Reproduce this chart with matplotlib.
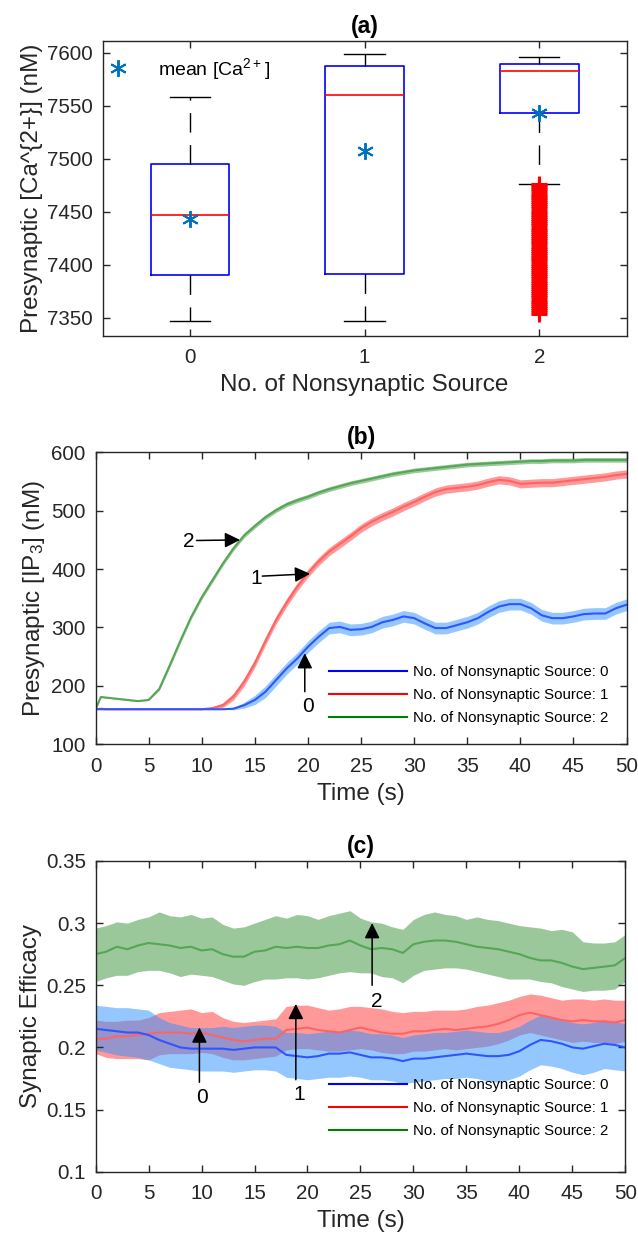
import numpy as np
import matplotlib
matplotlib.use("Agg")
import matplotlib.pyplot as plt
from matplotlib.lines import Line2D

plt.rcParams['font.family'] = ['Liberation Sans', 'DejaVu Sans']
plt.rcParams['mathtext.default'] = 'regular'

# ---- data (a): box statistics
positions = [0, 1, 2]
q1 = [7390, 7391, 7543]
q3 = [7495, 7587, 7589]
medians = [7447, 7560, 7583]
means = [7443, 7507, 7543]
whislo = [7347, 7347, 7476]
whishi = [7558, 7599, 7596]
fliers2 = [7353, 7355, 7357, 7359, 7361, 7363, 7365, 7367, 7369, 7371,
           7373, 7375, 7377, 7379, 7381, 7383, 7385, 7387, 7389, 7391,
           7393, 7395, 7397, 7399, 7401, 7403, 7405, 7407, 7409, 7411,
           7413, 7415, 7417, 7419, 7421, 7423, 7425, 7427, 7429, 7431,
           7433, 7435, 7437, 7439, 7441, 7443, 7445, 7447, 7449, 7451,
           7453, 7455, 7457, 7459, 7461, 7463, 7465, 7467, 7469, 7471,
           7473, 7475, 7476]

# ---- data (b): presynaptic IP3 means and band half widths
t_b = [0, 0.5] + list(range(1, 51))
ip3_0 = [160, 160, 160, 160, 160, 160, 160, 160, 160, 160, 160, 160, 160, 160,
         161, 167, 176, 190, 210, 230, 247, 267, 284, 299, 301, 296, 297, 301,
         309, 313, 319, 316, 307, 299, 299, 304, 309, 316, 327, 336, 340, 340,
         333, 321, 316, 316, 319, 323, 324, 324, 333, 339]
ip3_1 = [160, 161, 160, 160, 160, 160, 160, 160, 160, 160, 160, 160, 162,
         167, 182, 207, 239, 277, 313, 343, 370, 393, 413, 430, 443, 456, 470,
         481, 490, 498, 507, 515, 524, 532, 537, 539, 541, 544, 549, 553, 551,
         546, 547, 548, 548, 550, 552, 554, 556, 558, 561, 563]
ip3_2 = [160, 181, 180, 178, 176, 174, 176, 195, 236, 278, 318, 352, 381, 410,
         436, 458, 474, 489, 501, 511, 518, 524, 531, 537, 542, 547, 551, 555,
         559, 563, 566, 569, 571, 573, 575, 577, 579, 580, 581, 582, 583, 584,
         585, 585, 586, 586, 586, 587, 587, 587, 587, 587]
err_0 = [0, 0, 0, 0, 0, 0, 0, 0, 0, 0, 0, 0, 0, 0, 2, 5, 8, 10, 10, 10, 10, 10,
         10, 10, 10, 10, 10, 10, 10, 10, 10, 10, 10, 10, 10, 10, 10, 10, 10, 10,
         10, 10, 10, 10, 10, 10, 10, 10, 10, 10, 10, 10]
err_1 = [0, 0, 0, 0, 0, 0, 0, 0, 0, 0, 0, 0, 2, 4, 6, 7, 7, 7, 7, 7, 7, 7, 7,
         7, 7, 7, 7, 7, 7, 7, 7, 7, 7, 7, 7, 7, 7, 7, 7, 7, 7, 7, 7, 7, 7, 7,
         7, 7, 7, 7, 7, 7]
err_2 = [0, 1, 1, 1, 1, 1, 1, 3, 4, 4, 4, 4, 4, 4, 4, 4, 4, 4, 4, 4, 4, 4, 4,
         4, 4, 4, 4, 4, 4, 4, 4, 4, 4, 4, 4, 4, 4, 4, 4, 4, 4, 4, 4, 4, 4, 4,
         4, 4, 4, 4, 4, 4]

# ---- data (c): synaptic efficacy mean, upper and lower band
t_c = list(range(0, 51))
eff_0 = [.215, .214, .213, .212, .212, .210, .206, .203, .200, .199, .199, .199, .199,
         .198, .199, .200, .200, .200, .194, .193, .192, .193, .195, .195, .196, .194,
         .192, .192, .191, .189, .191, .191, .192, .193, .194, .195, .194, .193, .193,
         .194, .197, .202, .206, .205, .203, .200, .199, .201, .203, .202, .200]
up_0 = [.234, .233, .232, .232, .231, .230, .224, .220, .218, .216, .216, .216, .217,
        .216, .217, .218, .218, .217, .212, .212, .211, .212, .213, .213, .214, .213,
        .211, .211, .210, .208, .210, .211, .212, .212, .213, .214, .213, .212, .212,
        .214, .217, .222, .226, .225, .222, .220, .219, .220, .222, .221, .219]
lo_0 = [.198, .196, .194, .193, .192, .190, .187, .184, .183, .182, .181, .181, .181,
        .180, .181, .182, .182, .181, .176, .175, .174, .175, .176, .176, .177, .176,
        .174, .174, .173, .171, .172, .173, .174, .175, .175, .176, .175, .173, .172,
        .174, .177, .182, .186, .185, .183, .180, .178, .180, .183, .182, .181]
eff_1 = [.207, .207, .209, .209, .210, .211, .212, .212, .212, .211, .212, .210, .208,
         .206, .205, .206, .207, .207, .214, .215, .216, .214, .213, .212, .214, .216,
         .214, .212, .211, .211, .213, .213, .214, .215, .214, .215, .216, .217, .219,
         .222, .226, .228, .226, .224, .222, .221, .222, .221, .221, .220, .222]
up_1 = [.222, .221, .221, .222, .222, .224, .228, .229, .230, .231, .228, .229, .224,
        .221, .220, .221, .222, .223, .233, .234, .234, .232, .230, .231, .233, .233,
        .232, .231, .229, .228, .229, .229, .230, .230, .230, .231, .233, .234, .236,
        .238, .241, .243, .242, .240, .238, .239, .239, .238, .239, .238, .238]
lo_1 = [.195, .192, .191, .191, .191, .190, .194, .195, .195, .195, .196, .195, .192,
        .190, .190, .191, .192, .193, .198, .199, .199, .198, .197, .197, .198, .199,
        .198, .196, .195, .195, .197, .197, .198, .199, .198, .199, .200, .201, .203,
        .206, .210, .212, .210, .208, .206, .204, .205, .204, .204, .203, .205]
eff_2 = [.275, .277, .281, .279, .282, .284, .283, .282, .280, .281, .278, .279, .275,
         .273, .273, .277, .278, .281, .280, .281, .280, .280, .282, .283, .286, .282,
         .279, .280, .279, .276, .283, .285, .286, .286, .285, .283, .281, .280, .279,
         .277, .275, .272, .270, .270, .268, .265, .263, .264, .265, .266, .272]
up_2 = [.296, .298, .301, .300, .303, .305, .309, .306, .305, .307, .304, .305, .299,
        .296, .297, .300, .303, .306, .304, .307, .306, .303, .306, .308, .310, .304,
        .301, .300, .297, .295, .303, .307, .309, .307, .306, .303, .305, .303, .302,
        .300, .298, .297, .296, .294, .295, .293, .285, .284, .284, .285, .291]
lo_2 = [.253, .256, .258, .258, .261, .262, .262, .260, .257, .259, .258, .257, .254,
        .251, .250, .253, .255, .255, .256, .256, .255, .256, .258, .260, .261, .260,
        .260, .257, .256, .252, .258, .262, .263, .264, .264, .263, .261, .259, .257,
        .255, .255, .255, .253, .252, .249, .247, .245, .246, .246, .247, .253]

labels = ['No. of Nonsynaptic Source: 0', 'No. of Nonsynaptic Source: 1',
          'No. of Nonsynaptic Source: 2']
leg_colors = ['#0000ff', '#ff0000', '#008000']
line_colors = ['#2f55ff', '#ff6464', '#55a655']
fill_colors = ['#2d91ff', '#ff3535', '#399339']

axc = '#262626'
tick_fs = 14.8
lab_fs = 17.5
title_fs = 16.5


def style(ax):
    for s in ax.spines.values():
        s.set_color(axc)
        s.set_linewidth(1.0)
    ax.tick_params(direction='in', top=True, right=True, length=5, width=1.0,
                   colors=axc, labelsize=tick_fs)
    ax.tick_params(axis='x', pad=9)
    ax.tick_params(axis='y', pad=7)


fig = plt.figure(figsize=(6.38, 12.44), dpi=100)

# ---------------- (a)
ax1 = fig.add_axes([0.1607, 0.7302, 0.8215, 0.2369])
stats = []
for i in range(3):
    stats.append(dict(med=medians[i], q1=q1[i], q3=q3[i], whislo=whislo[i],
                      whishi=whishi[i], mean=means[i],
                      fliers=fliers2 if i == 2 else []))
ax1.bxp(stats, positions=positions, widths=0.45, capwidths=0.23, showmeans=True,
        boxprops=dict(color='#0000ff', lw=1.2),
        medianprops=dict(color='#ff0000', lw=1.2),
        whiskerprops=dict(color='k', lw=1.0, ls=(0, (14, 9))),
        capprops=dict(color='k', lw=1.0),
        flierprops=dict(marker='+', markeredgecolor='#ff0000', markersize=11,
                        markeredgewidth=2.2, ls='none'),
        meanprops=dict(marker=(6, 2, 0), markeredgecolor='#0072BD',
                       markerfacecolor='#0072BD', markersize=12, markeredgewidth=1.4))
ax1.set_xlim(-0.5, 2.5)
ax1.set_ylim(7333, 7611)
ax1.set_xticks([0, 1, 2])
ax1.set_xticklabels(['0', '1', '2'])
ax1.set_yticks([7350, 7400, 7450, 7500, 7550, 7600])
style(ax1)
ax1.set_title('(a)', fontsize=title_fs, fontweight='bold', pad=6)
ax1.set_xlabel('No. of Nonsynaptic Source', fontsize=lab_fs, color=axc, labelpad=5)
ax1.set_ylabel('Presynaptic [Ca^{2+}] (nM)', fontsize=lab_fs, color=axc, labelpad=3)
mean_handle = Line2D([], [], marker=(6, 2, 0), color='#0072BD', ls='none',
                     markersize=12, markeredgewidth=1.4)
ax1.legend([mean_handle], ['mean [Ca$^{2+}$]'], loc='upper left',
           bbox_to_anchor=(0.008, 0.95), frameon=False, fontsize=14,
           handlelength=1.2, handletextpad=1.45, borderpad=0, borderaxespad=0)

# ---------------- (b)
ax2 = fig.add_axes([0.1498, 0.4017, 0.8323, 0.2347])
ip3 = [ip3_0, ip3_1, ip3_2]
errs = [err_0, err_1, err_2]
for i in [2, 1, 0]:
    m = np.array(ip3[i], dtype=float)
    e = np.array(errs[i], dtype=float)
    ax2.plot(t_b, m, color=line_colors[i], lw=1.5)
    ax2.fill_between(t_b, m - e, m + e, color=fill_colors[i], alpha=0.5, lw=0)
ax2.set_xlim(0, 50)
ax2.set_ylim(100, 600)
ax2.set_xticks(range(0, 51, 5))
ax2.set_yticks(range(100, 601, 100))
style(ax2)
ax2.set_title('(b)', fontsize=title_fs, fontweight='bold', pad=6)
ax2.set_xlabel('Time (s)', fontsize=lab_fs, color=axc, labelpad=5)
ax2.set_ylabel('Presynaptic [IP$_3$] (nM)', fontsize=lab_fs, color=axc, labelpad=3)
handles = [Line2D([], [], color=c, lw=1.5) for c in leg_colors]
ax2.legend(handles, labels, loc='upper left', bbox_to_anchor=(0.439, 0.272),
           frameon=False, fontsize=10.8, handlelength=5.2, handletextpad=0.4,
           labelspacing=0.6, borderpad=0, borderaxespad=0)

arrow = dict(arrowstyle='-|>,head_length=0.4,head_width=0.2', mutation_scale=23,
             color='k', lw=1.1, shrinkA=0, shrinkB=0)
ax2.annotate('', xy=(13.6, 450), xytext=(9.5, 449), arrowprops=arrow)
ax2.text(8.8, 447, '2', fontsize=15, ha='center', va='center')
ax2.annotate('', xy=(20.2, 392), xytext=(15.7, 388), arrowprops=arrow)
ax2.text(15.1, 384, '1', fontsize=15, ha='center', va='center')
ax2.annotate('', xy=(19.7, 256), xytext=(19.7, 190), arrowprops=arrow)
ax2.text(20.0, 165, '0', fontsize=15, ha='center', va='center')

# ---------------- (c)
ax3 = fig.add_axes([0.1498, 0.0581, 0.8304, 0.2498])
effs = [eff_0, eff_1, eff_2]
ups = [up_0, up_1, up_2]
los = [lo_0, lo_1, lo_2]
for i in [2, 1, 0]:
    ax3.plot(t_c, effs[i], color=line_colors[i], lw=1.5)
    ax3.fill_between(t_c, los[i], ups[i], color=fill_colors[i], alpha=0.5, lw=0)
ax3.set_xlim(0, 50)
ax3.set_ylim(0.1, 0.35)
ax3.set_xticks(range(0, 51, 5))
ax3.set_yticks([0.1, 0.15, 0.2, 0.25, 0.3, 0.35])
ax3.set_yticklabels(['0.1', '0.15', '0.2', '0.25', '0.3', '0.35'])
style(ax3)
ax3.set_title('(c)', fontsize=title_fs, fontweight='bold', pad=6)
ax3.set_xlabel('Time (s)', fontsize=lab_fs, color=axc, labelpad=5)
ax3.set_ylabel('Synaptic Efficacy', fontsize=lab_fs, color=axc, labelpad=3)
ax3.legend(handles, labels, loc='upper left', bbox_to_anchor=(0.440, 0.302),
           frameon=False, fontsize=10.8, handlelength=5.2, handletextpad=0.4,
           labelspacing=0.6, borderpad=0, borderaxespad=0)
ax3.annotate('', xy=(9.8, 0.216), xytext=(9.8, 0.172), arrowprops=arrow)
ax3.text(10.0, 0.160, '0', fontsize=15, ha='center', va='center')
ax3.annotate('', xy=(18.9, 0.235), xytext=(18.9, 0.174), arrowprops=arrow)
ax3.text(19.2, 0.162, '1', fontsize=15, ha='center', va='center')
ax3.annotate('', xy=(26.1, 0.300), xytext=(26.1, 0.250), arrowprops=arrow)
ax3.text(26.5, 0.237, '2', fontsize=15, ha='center', va='center')

fig.savefig('out.png', dpi=100)
